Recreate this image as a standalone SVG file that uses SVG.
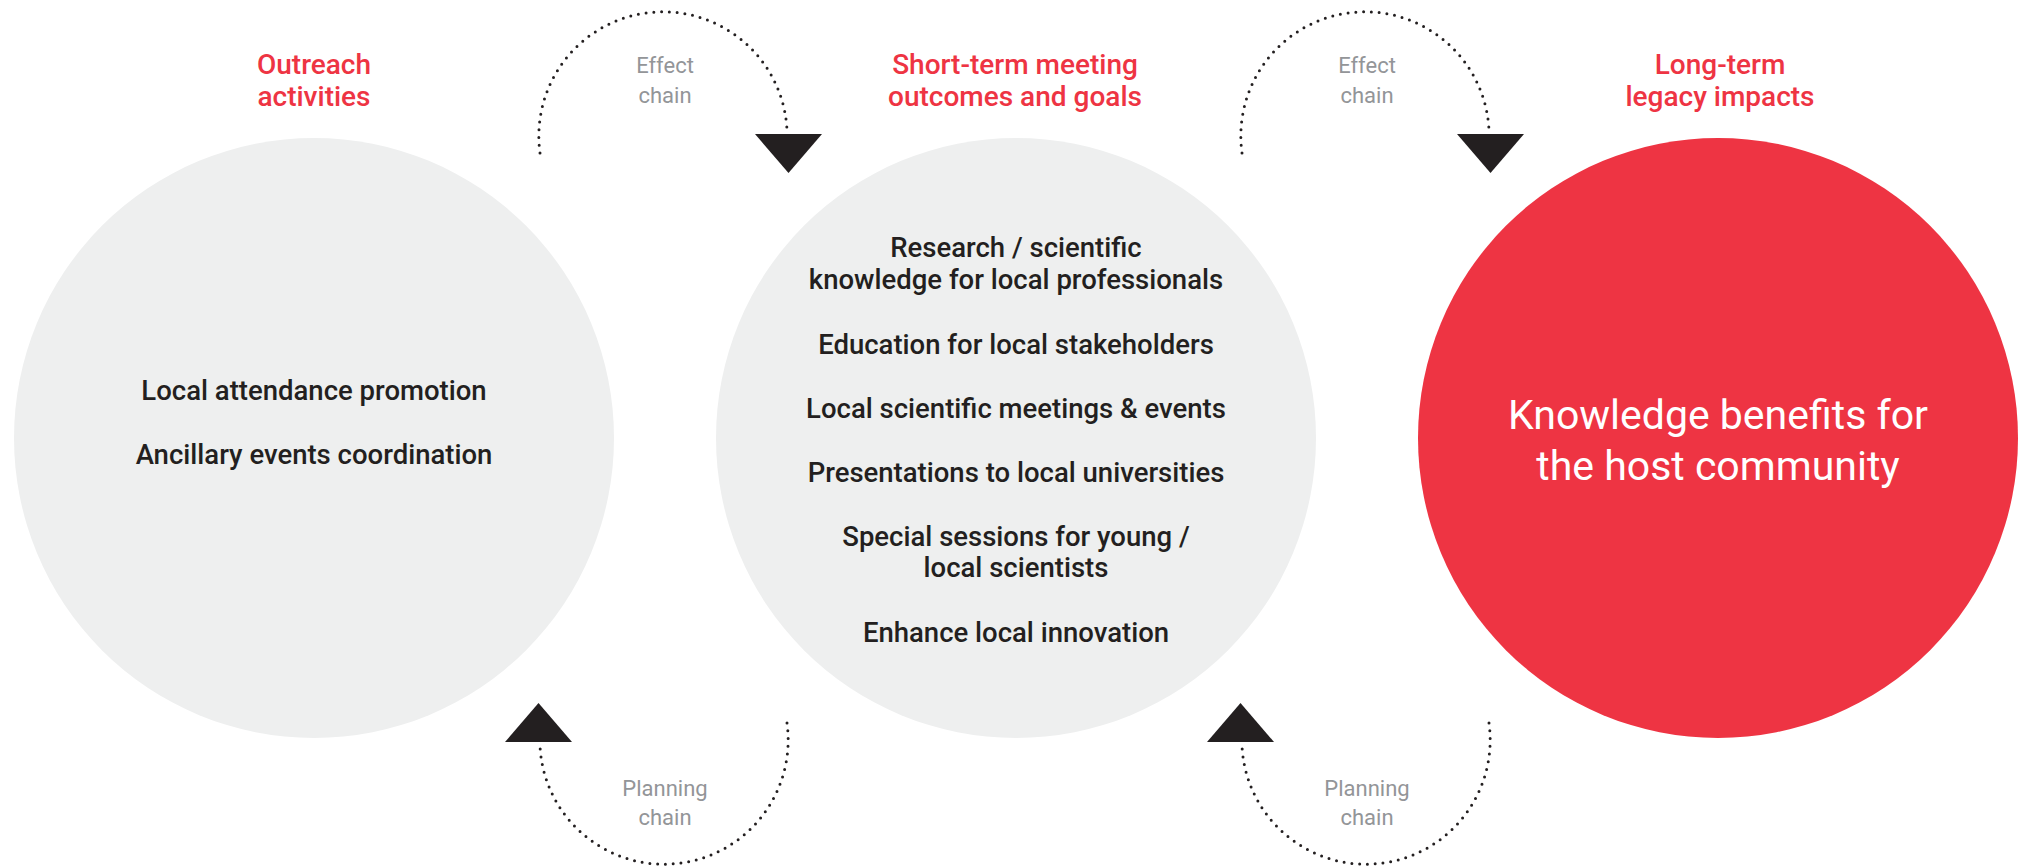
<svg xmlns="http://www.w3.org/2000/svg" width="2024" height="866" viewBox="0 0 2024 866">
<style>
.circ{fill:#eeefef}
.red{fill:#ee3443}
.hdr{font-family:Roboto,"Liberation Sans",sans-serif;font-size:28px;font-weight:500;fill:#ee3443;text-anchor:middle}
.item{font-family:Roboto,"Liberation Sans",sans-serif;font-size:27.5px;font-weight:500;fill:#231f20;text-anchor:middle}
.big{font-family:Roboto,"Liberation Sans",sans-serif;font-size:41px;font-weight:400;fill:#ffffff;text-anchor:middle}
.lbl{font-family:Roboto,"Liberation Sans",sans-serif;font-size:22px;font-weight:400;fill:#939598;text-anchor:middle}
.dot{fill:none;stroke:#231f20;stroke-width:3;stroke-linecap:round;stroke-dasharray:0 7.8}
.tri{fill:#231f20}
</style>
<g id="outreach">
<circle class="circ" cx="314" cy="438" r="300"/>
<text class="hdr" x="314" y="74">Outreach</text>
<text class="hdr" x="314" y="106">activities</text>
<text class="item" x="314" y="400">Local attendance promotion</text>
<text class="item" x="314" y="464">Ancillary events coordination</text>
</g>
<g id="shortterm">
<circle class="circ" cx="1016" cy="438" r="300"/>
<text class="hdr" x="1015" y="74">Short-term meeting</text>
<text class="hdr" x="1015" y="106">outcomes and goals</text>
<text class="item" x="1016" y="257">Research / scientific</text>
<text class="item" x="1016" y="289">knowledge for local professionals</text>
<text class="item" x="1016" y="354">Education for local stakeholders</text>
<text class="item" x="1016" y="418">Local scientific meetings &amp; events</text>
<text class="item" x="1016" y="482">Presentations to local universities</text>
<text class="item" x="1016" y="546">Special sessions for young /</text>
<text class="item" x="1016" y="577">local scientists</text>
<text class="item" x="1016" y="642">Enhance local innovation</text>
</g>
<g id="longterm">
<circle class="red" cx="1718" cy="438" r="300"/>
<text class="hdr" x="1720" y="74">Long-term</text>
<text class="hdr" x="1720" y="106">legacy impacts</text>
<text class="big" x="1718" y="429">Knowledge benefits for</text>
<text class="big" x="1718" y="480">the host community</text>
</g>
<g id="connectors">
<path class="dot" d="M540,153 A124.2,124.2 0 0,1 663,11.8 A124.2,124.2 0 0,1 787,130"/>
<polygon class="tri" points="755,134 822,134 788.5,173"/>
<text class="lbl" x="665" y="73">Effect</text>
<text class="lbl" x="665" y="103">chain</text>
<path class="dot" d="M787,723 A124.2,124.2 0 0,1 664,864.2 A124.2,124.2 0 0,1 540,746"/>
<polygon class="tri" points="572,742 505,742 538.5,703"/>
<text class="lbl" x="665" y="796">Planning</text>
<text class="lbl" x="665" y="825">chain</text>
<path class="dot" d="M1242,153 A124.2,124.2 0 0,1 1365,11.8 A124.2,124.2 0 0,1 1489,130"/>
<polygon class="tri" points="1457,134 1524,134 1490.5,173"/>
<text class="lbl" x="1367" y="73">Effect</text>
<text class="lbl" x="1367" y="103">chain</text>
<path class="dot" d="M1489,723 A124.2,124.2 0 0,1 1366,864.2 A124.2,124.2 0 0,1 1242,746"/>
<polygon class="tri" points="1274,742 1207,742 1240.5,703"/>
<text class="lbl" x="1367" y="796">Planning</text>
<text class="lbl" x="1367" y="825">chain</text>
</g>
</svg>
